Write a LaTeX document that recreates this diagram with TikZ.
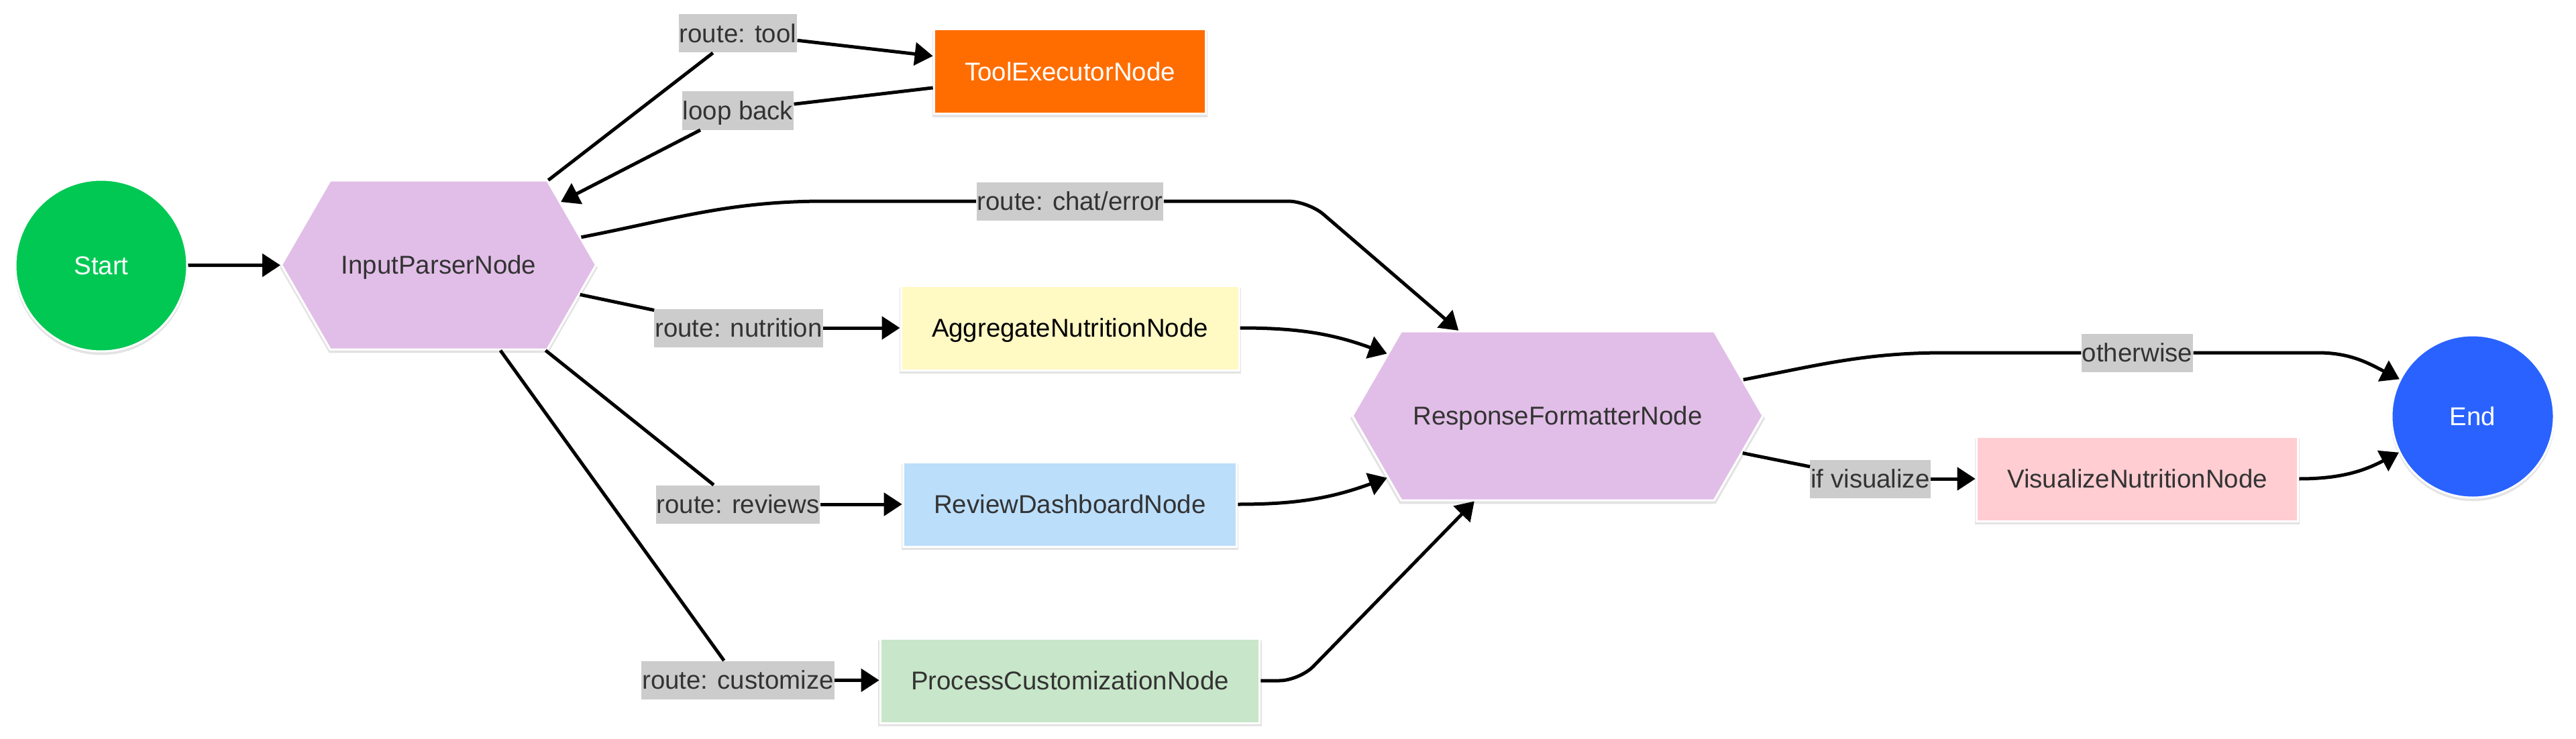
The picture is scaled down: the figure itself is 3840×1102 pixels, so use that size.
\documentclass[tikz,border=0pt]{standalone}
\usepackage{fontspec}
\setmainfont{Liberation Sans}
\usetikzlibrary{shapes.symbols,arrows.meta,shadows}

\definecolor{verdeinicio}{HTML}{00C853}
\definecolor{azulfin}{HTML}{2962FF}
\definecolor{lila}{HTML}{E1BEE7}
\definecolor{naranja}{HTML}{FF6D00}
\definecolor{amarillo}{HTML}{FFF9C4}
\definecolor{celeste}{HTML}{BBDEFB}
\definecolor{verdeclaro}{HTML}{C8E6C9}
\definecolor{rosa}{HTML}{FFCDD2}
\definecolor{grisetiqueta}{HTML}{CCCCCC}
\definecolor{textogris}{HTML}{333333}

\tikzset{
  fuente/.style={font=\fontsize{19.2pt}{23pt}\selectfont, text height=17pt, text depth=3.25pt},
  nodo/.style={fuente, draw=white, line width=1.5pt, text=textogris,
    drop shadow={shadow xshift=0pt, shadow yshift=-2pt, shadow scale=1.01,
      opacity=0.18, fill=black!60}},
  caja/.style={nodo, rectangle, minimum height=63pt, inner xsep=23pt},
  hexagono/.style={nodo, signal, signal to=east and west, signal pointer angle=120,
    minimum height=126pt, inner sep=0pt},
  circulo/.style={nodo, circle, text=white, inner sep=0pt},
  etiqueta/.style={fuente, fill=grisetiqueta, text=textogris, inner xsep=0.5pt,
    inner ysep=0pt, minimum height=28.5pt},
  linea/.style={line width=2.5pt},
  flecha/.style={linea, -{Triangle[length=13.5pt,width=17pt]}}
}

\begin{document}
\begin{tikzpicture}[x=0.5pt, y=-0.5pt]
    \useasboundingbox (0,0) rectangle (3840,1102);

    % Inicio y fin
    \node[circulo, fill=verdeinicio, minimum size=128pt] (inicio) at (151,396) {Start};
    \node[circulo, fill=azulfin, minimum size=121pt] (fin) at (3686,621) {End};

    % Nodos hexagonales
    \node[hexagono, fill=lila, minimum width=234.5pt] (input) at (654,395) {InputParserNode};
    \node[hexagono, fill=lila, minimum width=306pt] (response) at (2322,620) {ResponseFormatterNode};

    % Nodos rectangulares
    \node[caja, fill=naranja, text=white] (tool) at (1595,107) {ToolExecutorNode};
    \node[caja, fill=amarillo, text=black] (aggregate) at (1595,489) {AggregateNutritionNode};
    \node[caja, fill=celeste] (review) at (1595,752) {ReviewDashboardNode};
    \node[caja, fill=verdeclaro] (custom) at (1595,1015) {ProcessCustomizationNode};
    \node[caja, fill=rosa] (visual) at (3186,714) {VisualizeNutritionNode};

    % Etiquetas de las aristas
    \foreach \nombre/\x/\y/\texto in {
        lbltool/1100/50/route: tool,
        lblloop/1100/165/loop back,
        lblchat/1595/300/route: chat\slash error,
        lblnut/1101/489/route: nutrition,
        lblrev/1100/752/route: reviews,
        lblcust/1100/1014/route: customize,
        lblother/3186/526/otherwise,
        lblvis/2788/714/if visualize
    } {
        \node[etiqueta] (\nombre) at (\x,\y) {\texto};
    }

    % Puntos de paso
    \coordinate (curvachat) at (1230,300);
    \coordinate (codochat) at (1950,300);
    \coordinate (codocust) at (1937,1015);
    \coordinate (curvaotro) at (2900,526);
    \coordinate (rectaotro) at (3455,526);

    % Aristas
    \draw[flecha] (inicio) -- (input);
    \draw[linea] (input) -- (lbltool);
    \draw[flecha] (lbltool) -- (tool);
    \draw[linea] (tool) -- (lblloop);
    \draw[flecha] (lblloop) -- (input);
    \draw[linea] (input) to[out=11,in=180] (curvachat) -- (lblchat);
    \draw[flecha, rounded corners=15pt] (lblchat) -- (codochat) -- (response);
    \foreach \lbl/\dst in {lblnut/aggregate, lblrev/review, lblcust/custom} {
        \draw[linea] (input) -- (\lbl);
        \draw[flecha] (\lbl) -- (\dst);
    }
    \draw[flecha] (aggregate) to[out=0,in=160] (response);
    \draw[flecha] (review) to[out=0,in=200] (response);
    \draw[flecha, rounded corners=15pt] (custom) -- (codocust) -- (response);
    \draw[linea] (response) to[out=11,in=180] (curvaotro) -- (lblother);
    \draw[flecha] (lblother) -- (rectaotro) to[out=0,in=153] (fin.153);
    \draw[linea] (response) -- (lblvis);
    \draw[flecha] (lblvis) -- (visual);
    \draw[flecha] (visual) to[out=0,in=208] (fin.206);
\end{tikzpicture}
\end{document}
